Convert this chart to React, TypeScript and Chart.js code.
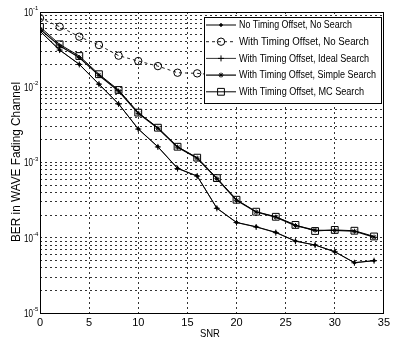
import React, { useEffect, useRef } from 'react';
import { Chart, registerables } from 'chart.js';
import { drawPoint } from 'chart.js/helpers';

Chart.register(...registerables);

const snr = [0, 2, 4, 6, 8, 10, 12, 14, 16, 18, 20, 22, 24, 26, 28, 30, 32, 34];
const noOffsetNoSearch = [0.0558, 0.0313, 0.0202, 0.011, 0.006, 0.0028, 0.00162, 0.00084, 0.00066, 0.000248, 0.00016, 0.00014, 0.000118, 0.0000905, 0.00008, 0.0000653, 0.0000467, 0.0000496];
const offsetNoSearch = [0.083, 0.0638, 0.047, 0.0364, 0.0263, 0.0223, 0.0191, 0.0156, 0.0153, 0.0145, 0.014, 0.0135, 0.013, 0.0126, 0.0122, 0.012, 0.0118, 0.0115];
const offsetIdealSearch = [0.0555, 0.0312, 0.0201, 0.011, 0.006, 0.00278, 0.00161, 0.00083, 0.00066, 0.000246, 0.000159, 0.000139, 0.000117, 0.00009, 0.00008, 0.000065, 0.0000465, 0.0000495];
const offsetSimpleSearch = [0.059, 0.0355, 0.0248, 0.0144, 0.0089, 0.0045, 0.00285, 0.0016, 0.00114, 0.00061, 0.000315, 0.00022, 0.000188, 0.000145, 0.000126, 0.000125, 0.000122, 0.000102];
const offsetMCSearch = [0.0633, 0.0372, 0.026, 0.0149, 0.0092, 0.0046, 0.0029, 0.00162, 0.00116, 0.00062, 0.00032, 0.000222, 0.00019, 0.000148, 0.000123, 0.000127, 0.000124, 0.000104];
const seriesLabels = [
  'No Timing Offset, No Search',
  'With Timing Offset, No Search',
  'With Timing Offset, Ideal Search',
  'With Timing Offset, Simple Search',
  'With Timing Offset, MC Search',
];
const xTickValues = [0, 5, 10, 15, 20, 25, 30, 35];
const yDecadeExponents = [-5, -4, -3, -2, -1];
const xTitle = 'SNR';
const yTitle = 'BER in WAVE Fading Channel';

const FONT = '"Liberation Sans", Arial, sans-serif';
const GRID = 'rgba(0,0,0,0.8)';

const toPoints = (ys: number[]) => snr.map((x, i) => ({ x, y: ys[i] }));

const overlayPlugin = {
  id: 'overlay',
  afterDraw(chart: any) {
    const { ctx, chartArea: a, scales } = chart;
    ctx.save();
    // plot frame
    ctx.setLineDash([]);
    ctx.strokeStyle = '#000';
    ctx.lineWidth = 1;
    ctx.strokeRect(Math.round(a.left) + 0.5, Math.round(a.top) + 0.5, Math.round(a.right - a.left) - 1, Math.round(a.bottom - a.top));

    // y tick labels (10^n)
    const ys = scales.y;
    ctx.fillStyle = '#000';
    yDecadeExponents.forEach((e) => {
      const y = ys.getPixelForValue(Math.pow(10, e));
      ctx.font = `10px ${FONT}`;
      ctx.textAlign = 'right';
      ctx.textBaseline = 'middle';
      ctx.fillText('10', a.left - 7, y + 1, 9);
      ctx.font = `6px ${FONT}`;
      ctx.textAlign = 'left';
      ctx.fillText(String(e), a.left - 7, y - 3.5);
    });

    // axis titles
    ctx.font = `11px ${FONT}`;
    ctx.textAlign = 'center';
    ctx.textBaseline = 'middle';
    ctx.fillText(xTitle, (a.left + a.right) / 2 - 2, 334, 20);
    ctx.save();
    ctx.translate(17, 162);
    ctx.rotate(-Math.PI / 2);
    ctx.font = `12px ${FONT}`;
    ctx.fillText(yTitle, 0, 0, 160);
    ctx.restore();

    // legend
    const bx = Math.round(a.right) - 180;
    const by = Math.round(a.top) + 5;
    const bw = 177;
    const bh = 86;
    ctx.fillStyle = '#fff';
    ctx.fillRect(bx, by, bw, bh);
    ctx.strokeStyle = '#000';
    ctx.strokeRect(bx + 0.5, by + 0.5, bw, bh);
    chart.data.datasets.forEach((ds: any, i: number) => {
      const y = by + 8 + i * 16.7;
      ctx.strokeStyle = ds.borderColor;
      ctx.lineWidth = ds.borderWidth;
      ctx.setLineDash(ds.borderDash || []);
      ctx.beginPath();
      ctx.moveTo(bx + 2, y);
      ctx.lineTo(bx + 32, y);
      ctx.stroke();
      ctx.setLineDash([]);
      ctx.strokeStyle = ds.pointBorderColor;
      ctx.fillStyle = ds.pointBackgroundColor;
      ctx.lineWidth = ds.pointBorderWidth;
      drawPoint(ctx, { pointStyle: ds.pointStyle, radius: ds.pointRadius, rotation: 0, borderWidth: ds.pointBorderWidth }, bx + 17, y);
      ctx.fillStyle = '#000';
      ctx.font = `10px ${FONT}`;
      ctx.textAlign = 'left';
      ctx.textBaseline = 'middle';
      const maxW = [113, 130, 130, 137, 125][i];
      ctx.fillText(ds.label, bx + 35, y + 0.5, maxW);
    });
    ctx.restore();
  },
};

export default function App() {
  const ref = useRef<HTMLCanvasElement | null>(null);
  useEffect(() => {
    document.body.style.margin = '0';
    if (!ref.current) return;
    const chart = new Chart(ref.current, {
      type: 'line',
      data: {
        datasets: [
          {
            label: seriesLabels[0],
            data: toPoints(noOffsetNoSearch),
            borderColor: '#000',
            borderWidth: 1,
            pointStyle: 'circle',
            pointRadius: 1.3,
            pointBorderColor: '#000',
            pointBackgroundColor: '#000',
            pointBorderWidth: 1,
          },
          {
            label: seriesLabels[1],
            data: toPoints(offsetNoSearch),
            borderColor: '#222',
            borderWidth: 1,
            borderDash: [3, 3],
            pointStyle: 'circle',
            pointRadius: 3.7,
            pointBorderColor: '#000',
            pointBackgroundColor: 'rgba(255,255,255,0)',
            pointBorderWidth: 1,
          },
          {
            label: seriesLabels[2],
            data: toPoints(offsetIdealSearch),
            borderColor: '#000',
            borderWidth: 0.8,
            pointStyle: 'cross',
            pointRadius: 3,
            pointBorderColor: '#000',
            pointBackgroundColor: '#000',
            pointBorderWidth: 1,
          },
          {
            label: seriesLabels[3],
            data: toPoints(offsetSimpleSearch),
            borderColor: '#000',
            borderWidth: 1.2,
            pointStyle: 'star',
            pointRadius: 2.5,
            pointBorderColor: '#000',
            pointBackgroundColor: '#000',
            pointBorderWidth: 1,
          },
          {
            label: seriesLabels[4],
            data: toPoints(offsetMCSearch),
            borderColor: '#000',
            borderWidth: 1,
            pointStyle: 'rect',
            pointRadius: 4.8,
            pointBorderColor: '#000',
            pointBackgroundColor: 'rgba(255,255,255,0)',
            pointBorderWidth: 1,
          },
        ],
      },
      options: {
        animation: false,
        responsive: false,
        devicePixelRatio: 1,
        layout: { padding: { top: 12, right: 5, left: 0, bottom: 0 } },
        plugins: { legend: { display: false }, tooltip: { enabled: false } },
        elements: { line: { tension: 0 } },
        scales: {
          x: {
            type: 'linear',
            min: 0,
            max: 35,
            afterFit: (s: any) => { s.height = 30; },
            afterBuildTicks: (s: any) => { s.ticks = xTickValues.map((v) => ({ value: v })); },
            ticks: { font: { family: FONT, size: 11 }, color: '#000', padding: 3, maxRotation: 0, autoSkip: false },
            grid: { color: GRID, drawTicks: false, lineWidth: 1 },
            border: { display: false, dash: [2, 3] },
          },
          y: {
            type: 'logarithmic',
            min: 1e-5,
            max: 1e-1,
            afterFit: (s: any) => { s.width = 40; },
            afterBuildTicks: (s: any) => {
              const t: { value: number }[] = [];
              yDecadeExponents.forEach((e) => {
                if (e === -1) { t.push({ value: Math.pow(10, e) }); return; }
                for (let m = 1; m < 10; m++) t.push({ value: m * Math.pow(10, e) });
              });
              s.ticks = t;
            },
            ticks: { display: false },
            grid: { color: GRID, drawTicks: false, lineWidth: 1 },
            border: { display: false, dash: [2, 3] },
          },
        },
      },
      plugins: [overlayPlugin],
    } as any);
    return () => chart.destroy();
  }, []);
  return <canvas ref={ref} width={393} height={343} style={{ display: 'block' }} />;
}
